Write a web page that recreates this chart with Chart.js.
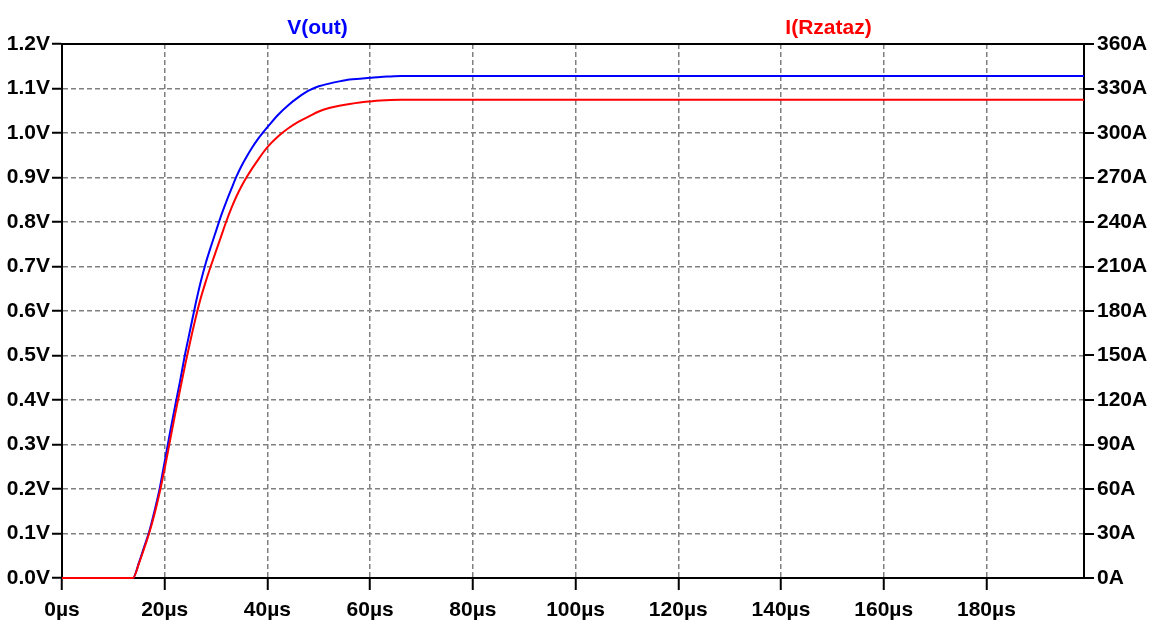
<!DOCTYPE html>
<html>
<head>
<meta charset="utf-8">
<script src="https://cdn.jsdelivr.net/npm/chart.js@4/dist/chart.umd.min.js"></script>
<style>
  html, body { margin: 0; padding: 0; background: #fff; }
  #wrap { width: 1151px; height: 621px; }
</style>
</head>
<body>
<div id="wrap"><canvas id="plot"></canvas></div>
<script>
// time axis (µs)
const timeUs = [0, 13.8, 15, 16, 17, 18, 19, 20, 21, 22, 23, 24, 25, 26, 27, 28, 29, 30,
    31, 32, 33, 34, 35, 36, 37, 38, 39, 40, 42, 44, 46, 48, 50, 52, 54, 56, 58, 60,
    62, 64, 66, 70, 80, 100, 150, 199];

// V(out) in volts
const vOut = [0, 0, 0.035, 0.07, 0.105, 0.15, 0.2, 0.262, 0.325, 0.385, 0.443, 0.505, 0.56,
    0.615, 0.665, 0.708, 0.745, 0.78, 0.815, 0.846, 0.875, 0.903, 0.927, 0.948, 0.967, 0.984,
    0.999, 1.013, 1.04, 1.062, 1.08, 1.095, 1.105, 1.111, 1.116, 1.12, 1.122, 1.124,
    1.126, 1.127, 1.128, 1.128, 1.128, 1.128, 1.128, 1.128];

// I(Rzataz) in amps
const iRzataz = [0, 0, 10, 20, 30.5, 43, 57.5, 74, 92, 110, 127, 144, 160, 175, 188.5, 200,
    210.5, 220.5, 230.5, 240.5, 249.5, 257.5, 264.5, 270.5, 276, 281, 286, 290.5, 297.5, 303,
    307.5, 311, 314.5, 316.8, 318.4, 319.6, 320.6, 321.3, 321.9, 322.3, 322.5, 322.5, 322.5,
    322.5, 322.5, 322.5];

const xTicks = [0, 20, 40, 60, 80, 100, 120, 140, 160, 180];
const vTicks = [0, 0.1, 0.2, 0.3, 0.4, 0.5, 0.6, 0.7, 0.8, 0.9, 1.0, 1.1, 1.2];
const aTicks = [0, 30, 60, 90, 120, 150, 180, 210, 240, 270, 300, 330, 360];

const fontFamily = "'Liberation Sans Narrow', 'Arial Narrow', 'Liberation Sans', sans-serif";
const tickFont = { family: fontFamily, size: 21, weight: 'bold' };

function toPoints(ys) {
    return timeUs.map((t, i) => ({ x: t, y: ys[i] }));
}

function useTicks(list) {
    return function (scale) {
        scale.ticks = list.map(v => ({ value: v }));
    };
}

// frame round the plot (under the traces) and the trace names above it
const framePlugin = {
    id: 'frame',
    beforeDatasetsDraw(chart) {
        const { ctx, chartArea: a } = chart;
        ctx.save();
        ctx.strokeStyle = '#000';
        ctx.lineWidth = 2;
        ctx.strokeRect(a.left, a.top, a.right - a.left, a.bottom - a.top);
        ctx.restore();
    },
    afterDraw(chart) {
        const { ctx, chartArea: a } = chart;
        ctx.save();
        ctx.font = 'bold 21px ' + fontFamily;
        ctx.textAlign = 'center';
        ctx.textBaseline = 'middle';
        const w = a.right - a.left;
        ctx.fillStyle = '#0000ff';
        ctx.fillText(chart.data.datasets[0].label, a.left + w * 0.25, 28);
        ctx.fillStyle = '#ff0000';
        ctx.fillText(chart.data.datasets[1].label, a.left + w * 0.75, 28);
        ctx.restore();
    }
};

const ctx = document.getElementById('plot').getContext('2d');
new Chart(ctx, {
    type: 'line',
    data: {
        datasets: [{
            label: 'V(out)',
            data: toPoints(vOut),
            yAxisID: 'y',
            borderColor: '#0000ff',
            borderWidth: 2,
            pointRadius: 0,
            cubicInterpolationMode: 'monotone',
            clip: 3,
            order: 2
        }, {
            label: 'I(Rzataz)',
            data: toPoints(iRzataz),
            yAxisID: 'y1',
            borderColor: '#ff0000',
            borderWidth: 2,
            pointRadius: 0,
            cubicInterpolationMode: 'monotone',
            clip: 3,
            order: 1
        }]
    },
    options: {
        responsive: true,
        maintainAspectRatio: false,
        animation: false,
        layout: { padding: { top: 44, left: 0, right: 0, bottom: 0 } },
        plugins: {
            legend: { display: false },
            tooltip: { enabled: false }
        },
        scales: {
            x: {
                type: 'linear',
                min: 0,
                max: 199,
                afterBuildTicks: useTicks(xTicks),
                afterFit: s => { s.height = 43; },
                ticks: {
                    color: '#000',
                    font: tickFont,
                    padding: 8,
                    maxRotation: 0,
                    callback: v => v + 'µs'
                },
                grid: {
                    color: '#808080',
                    lineWidth: 1.5,
                    tickLength: 12,
                    tickColor: '#000',
                    tickWidth: 2,
                    tickBorderDash: []
                },
                border: { color: '#000', width: 2, dash: [5, 3] }
            },
            y: {
                position: 'left',
                min: 0,
                max: 1.2,
                afterBuildTicks: useTicks(vTicks),
                afterFit: s => { s.width = 62; },
                ticks: {
                    color: '#000',
                    font: tickFont,
                    padding: 2,
                    callback: v => v.toFixed(1) + 'V'
                },
                grid: {
                    color: '#808080',
                    lineWidth: 1.5,
                    tickLength: 10,
                    tickColor: '#000',
                    tickWidth: 2,
                    tickBorderDash: []
                },
                border: { color: '#000', width: 2, dash: [5, 3] }
            },
            y1: {
                position: 'right',
                min: 0,
                max: 360,
                afterBuildTicks: useTicks(aTicks),
                afterFit: s => { s.width = 67; },
                ticks: {
                    color: '#000',
                    font: tickFont,
                    padding: 3,
                    callback: v => v + 'A'
                },
                grid: {
                    drawOnChartArea: false,
                    tickLength: 10,
                    tickColor: '#000',
                    tickWidth: 2,
                    lineWidth: 2
                },
                border: { color: '#000', width: 2 }
            }
        }
    },
    plugins: [framePlugin]
});
</script>
</body>
</html>
